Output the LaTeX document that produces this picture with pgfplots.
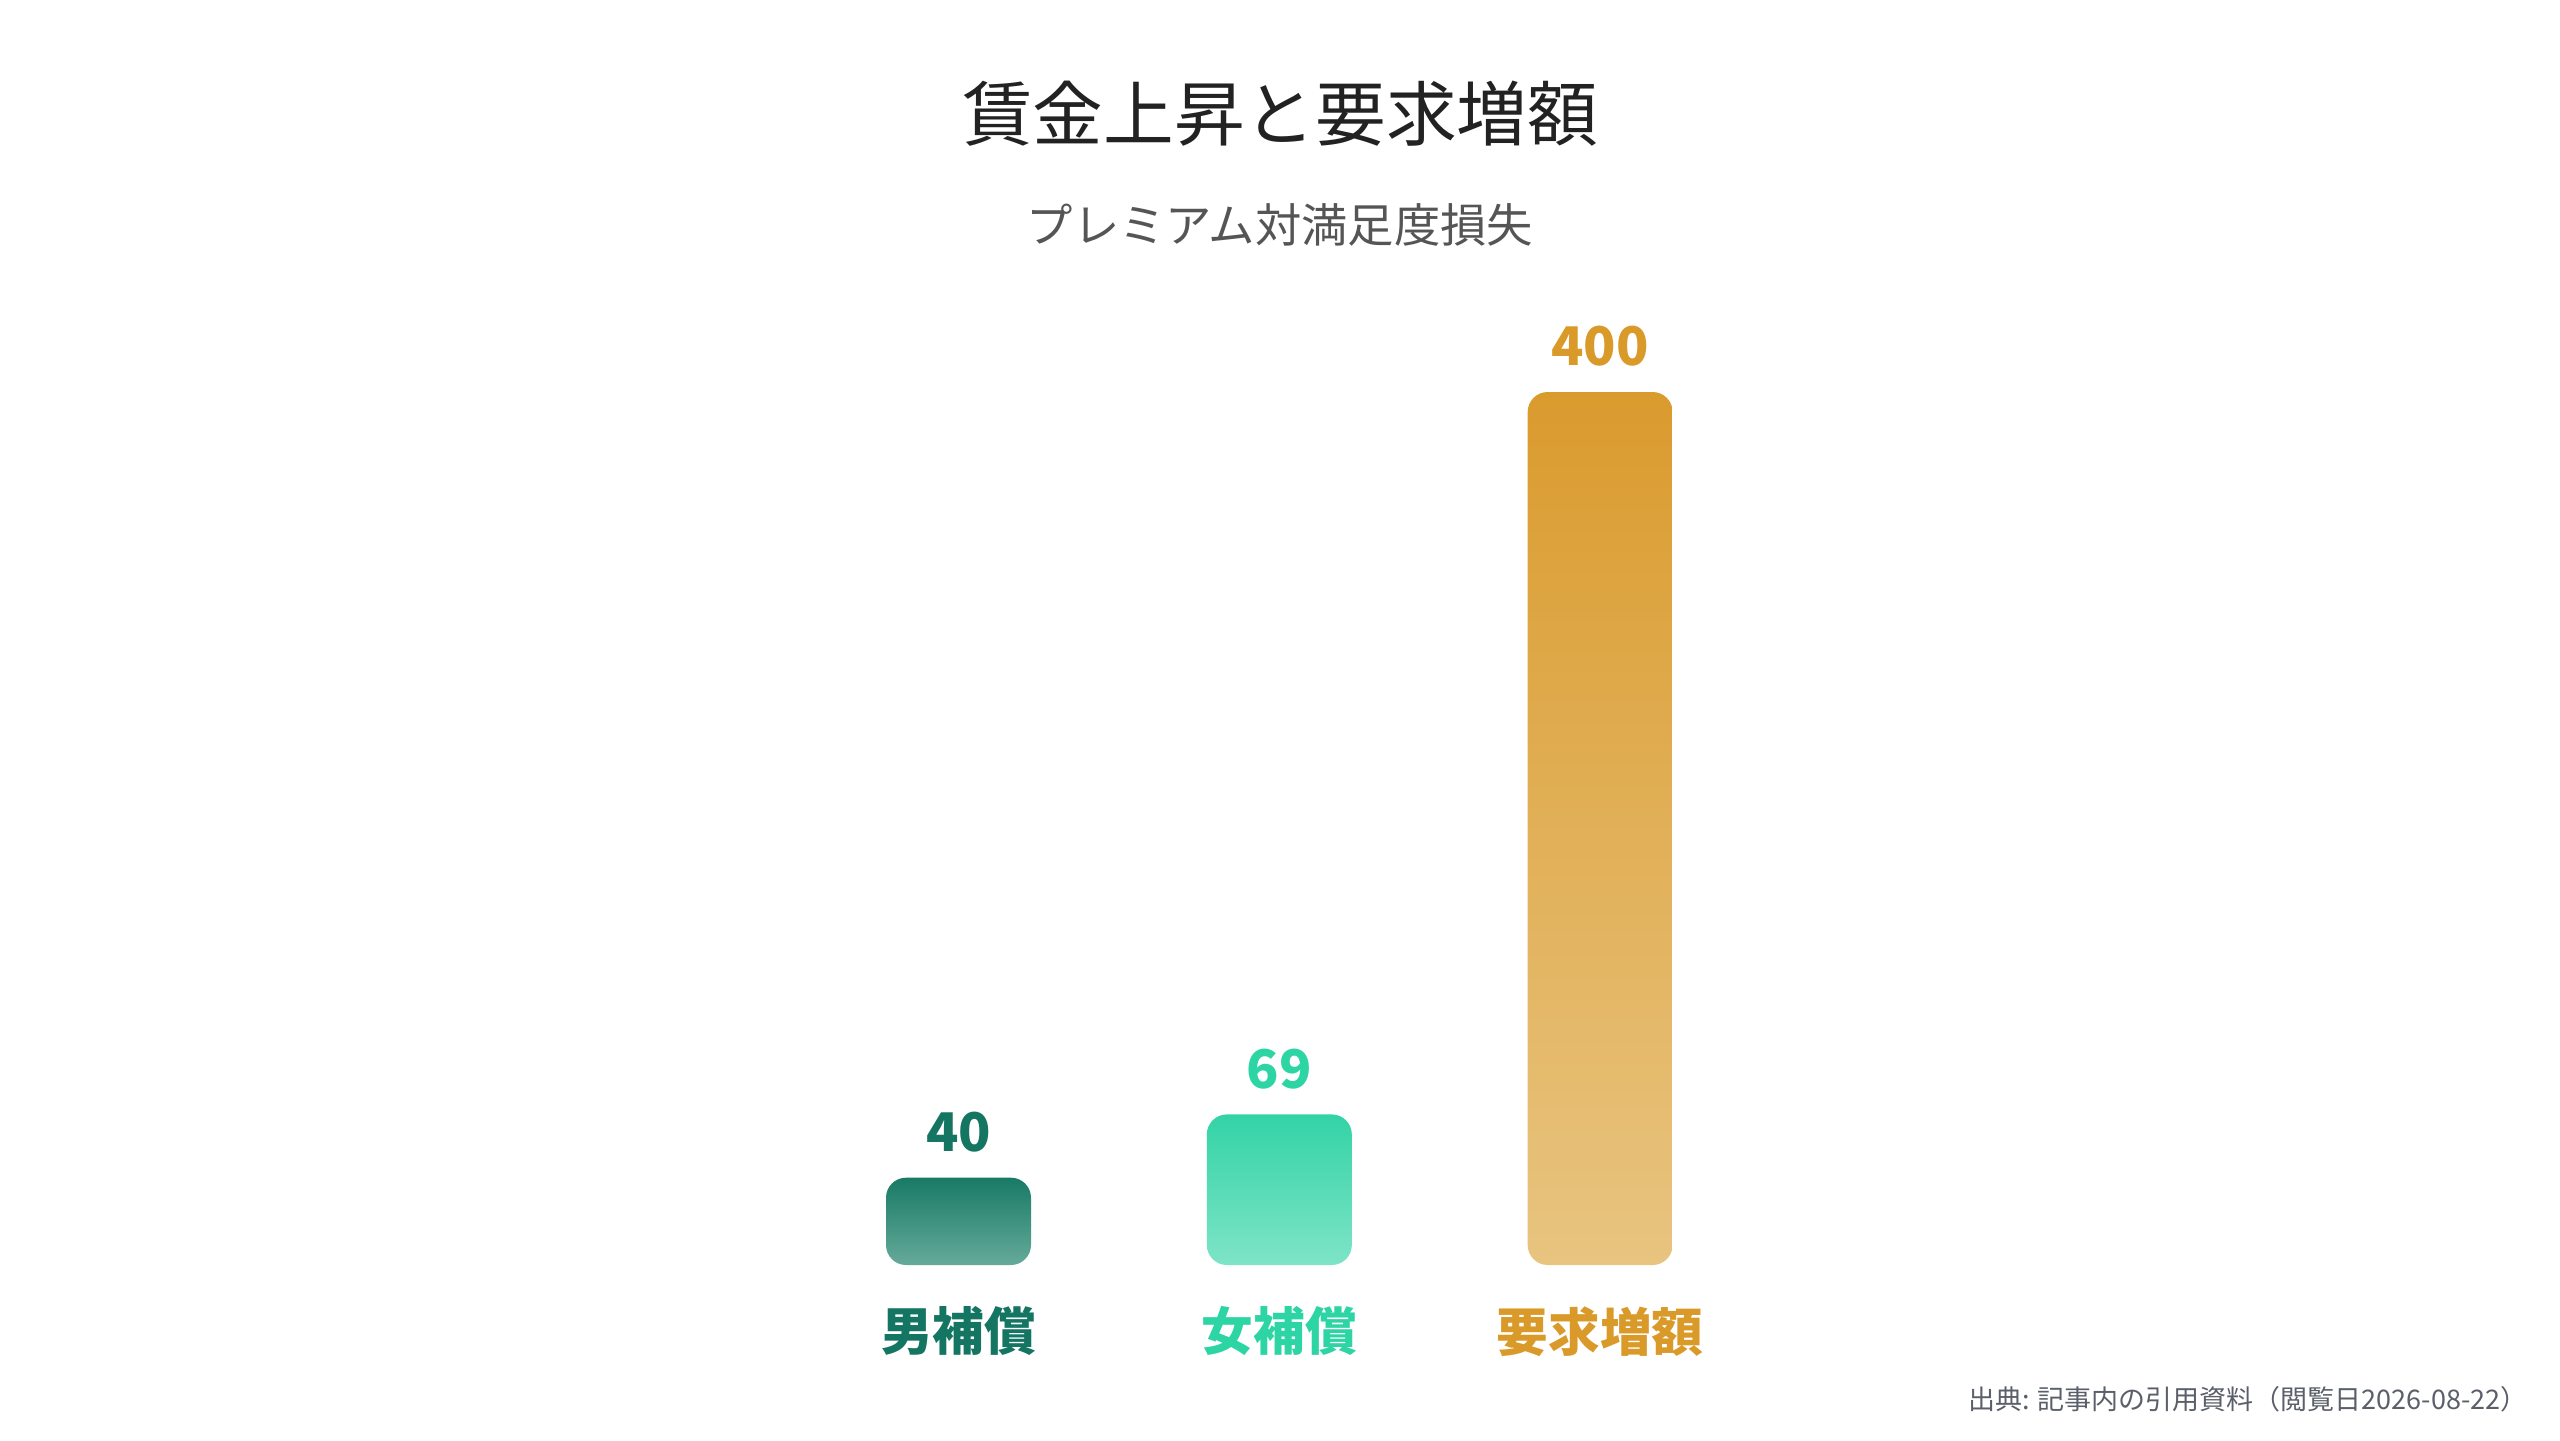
\documentclass[border=0pt]{standalone}
\usepackage{fontspec}
\setmainfont{Noto Sans CJK JP}
\usepackage{pgfplots}
\pgfplotsset{compat=1.18}

\definecolor{titlec}{HTML}{222222}
\definecolor{subc}{HTML}{555555}
\definecolor{footc}{HTML}{5A5F69}
% bar colours (label, top, bottom)
\definecolor{mtxt}{HTML}{147562}
\definecolor{mtop}{HTML}{187A65}
\definecolor{mbot}{HTML}{66AA9A}
\definecolor{ftxt}{HTML}{2DD4A4}
\definecolor{ftop}{HTML}{33D3A6}
\definecolor{fbot}{HTML}{7EE4C7}
\definecolor{rtxt}{HTML}{D99A2A}
\definecolor{rtop}{HTML}{DA9B2E}
\definecolor{rbot}{HTML}{E8C480}

\begin{document}
\begin{tikzpicture}
\path[use as bounding box] (0,0) rectangle (768pt,432pt);

\node[text=titlec, font=\fontsize{21.2}{24}\selectfont] at (384pt,397.8pt) {賃金上昇と要求増額};
\node[text=subc, font=\fontsize{13.9}{16}\selectfont] at (384pt,364.5pt) {プレミアム対満足度損失};

\begin{axis}[
    at={(191.3pt,52.5pt)}, anchor=south west,
    scale only axis, width=385pt, height=261.9pt,
    xmin=-1, xmax=3, ymin=0, ymax=400,
    enlargelimits=false, clip=false,
    axis line style={draw=none}, tick style={draw=none},
    ytick=\empty,
    xtick={0,1,2},
    xticklabels={{\textcolor{mtxt}{男補償}},{\textcolor{ftxt}{女補償}},{\textcolor{rtxt}{要求増額}}},
    xticklabel style={font=\bfseries\fontsize{15.5}{18}\selectfont, anchor=center, yshift=-15.6pt},
    ybar, bar width=43.5pt, bar shift=0pt,
    /pgf/number format/assume math mode=true,
    nodes near coords,
    every node near coord/.append style={font=\bfseries\fontsize{16}{18}\selectfont, anchor=south, inner sep=0pt, yshift=7.5pt},
]
\addplot[draw=none, top color=mtop, bottom color=mbot, rounded corners=6pt,
    every node near coord/.append style={text=mtxt}] coordinates {(0,40)};
\addplot[draw=none, top color=ftop, bottom color=fbot, rounded corners=6pt,
    every node near coord/.append style={text=ftxt}] coordinates {(1,69)};
\addplot[draw=none, top color=rtop, bottom color=rbot, rounded corners=6pt,
    every node near coord/.append style={text=rtxt}] coordinates {(2,400)};
\end{axis}

\node[text=footc, anchor=east, font=\fontsize{8.1}{10}\selectfont] at (761.8pt,12.3pt) {出典: 記事内の引用資料（閲覧日2026-08-22）};
\end{tikzpicture}
\end{document}
